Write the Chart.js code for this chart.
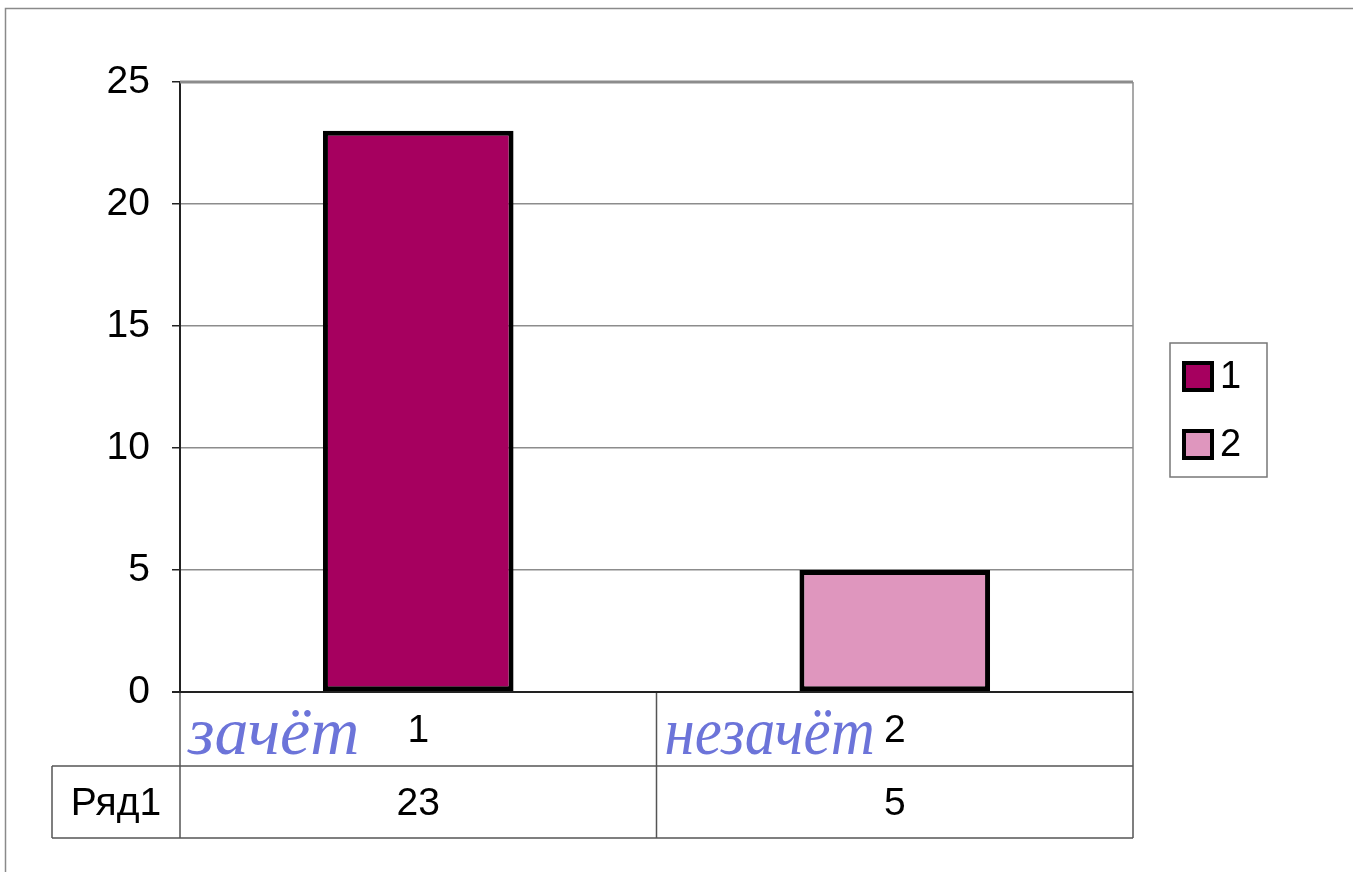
<!DOCTYPE html>
<html>
<head>
<meta charset="utf-8">
<script src="https://cdn.jsdelivr.net/npm/chart.js@4"></script>
<style>
  body { margin: 0; background: #fff; }
  #wrap { width: 1353px; height: 872px; }
</style>
</head>
<body>
<div id="wrap"><canvas id="myChart" width="1353" height="872"></canvas></div>
<script>
const categories = ['1', '2'];
const handLabels = ['зачёт', 'незачёт'];
const seriesName = 'Ряд1';
const values = [23, 5];
const barColors = ['#A6005F', '#DF96BE'];

const font = "'Liberation Sans', Arial, sans-serif";

// data table, legend, hand notes and frame
const extras = {
   id: 'extras',
   afterDraw(chart) {
      const ctx = chart.ctx;
      const a = chart.chartArea;
      const xs = chart.scales.x;
      const n = categories.length;
      const cw = (a.right - a.left) / n;
      const r1 = a.bottom, r2 = a.bottom + 74, r3 = a.bottom + 146;
      const nameLeft = 52;
      ctx.save();

      // outer frame
      ctx.strokeStyle = '#8a8a8a';
      ctx.lineWidth = 1.5;
      ctx.strokeRect(5.5, 8.5, 1400, 900);

      // plot border top / right
      ctx.strokeStyle = '#8c8c8c';
      ctx.lineWidth = 3;
      ctx.beginPath();
      ctx.moveTo(a.left, a.top);
      ctx.lineTo(a.right, a.top);
      ctx.stroke();
      ctx.lineWidth = 1.5;
      ctx.beginPath();
      ctx.moveTo(a.right, a.top);
      ctx.lineTo(a.right, r1);
      ctx.stroke();

      // table lines
      ctx.strokeStyle = '#555';
      ctx.lineWidth = 1.5;
      ctx.beginPath();
      ctx.moveTo(a.left, r1); ctx.lineTo(a.right, r1);
      ctx.moveTo(nameLeft, r2); ctx.lineTo(a.right, r2);
      ctx.moveTo(nameLeft, r3); ctx.lineTo(a.right, r3);
      ctx.moveTo(nameLeft, r2); ctx.lineTo(nameLeft, r3);
      for (let i = 0; i <= n; i++) {
         const x = a.left + cw * i;
         ctx.moveTo(x, r1); ctx.lineTo(x, r3);
      }
      ctx.stroke();

      // axis line at zero
      ctx.strokeStyle = '#222';
      ctx.lineWidth = 2;
      ctx.beginPath();
      ctx.moveTo(a.left - 8, r1); ctx.lineTo(a.right, r1);
      ctx.stroke();

      // table text
      ctx.fillStyle = '#000';
      ctx.font = '39px ' + font;
      ctx.textAlign = 'center';
      ctx.textBaseline = 'middle';
      for (let i = 0; i < n; i++) {
         const cx = xs.getPixelForValue(i);
         ctx.fillText(categories[i], cx, (r1 + r2) / 2 + 2);
         ctx.fillText(String(values[i]), cx, (r2 + r3) / 2 + 2);
      }
      ctx.fillText(seriesName, (nameLeft + a.left) / 2, (r2 + r3) / 2 + 2);

      // hand-written notes
      ctx.fillStyle = '#6C74D9';
      ctx.font = 'italic 68px "Liberation Serif", serif';
      ctx.textAlign = 'left';
      ctx.textBaseline = 'alphabetic';
      for (let i = 0; i < n; i++) {
         const cx = xs.getPixelForValue(i);
         const left = a.left + cw * i + 8;
         ctx.fillText(handLabels[i], left, r1 + 62, cx - 20 - left);
      }

      // legend
      const lx = 1170, ly = 343, lw = 97, lh = 134;
      ctx.strokeStyle = '#777';
      ctx.lineWidth = 1.5;
      ctx.strokeRect(lx, ly, lw, lh);
      ctx.font = '38px ' + font;
      ctx.textAlign = 'left';
      ctx.textBaseline = 'middle';
      for (let i = 0; i < n; i++) {
         const sy = ly + 20 + i * 68;
         ctx.fillStyle = barColors[i];
         ctx.fillRect(lx + 14, sy, 28, 27);
         ctx.strokeStyle = '#000';
         ctx.lineWidth = 4;
         ctx.strokeRect(lx + 14, sy, 28, 27);
         ctx.fillStyle = '#000';
         ctx.fillText(categories[i], lx + 50, sy + 15);
      }
      ctx.restore();
   }
};

const data = {
   labels: categories,
   datasets: [
      {
         label: seriesName,
         data: values,
         backgroundColor: barColors,
         borderColor: '#000',
         borderWidth: 5,
         borderSkipped: false,
         barPercentage: 0.4,
         categoryPercentage: 1.0,
      },
   ],
};

const config = {
   type: 'bar',
   data: data,
   plugins: [extras],
   options: {
      responsive: false,
      animation: false,
      layout: {
         padding: { left: 0, top: 82, right: 220, bottom: 180 },
      },
      plugins: {
         legend: { display: false },
         tooltip: { enabled: false },
      },
      scales: {
         x: {
            display: false,
         },
         y: {
            min: 0,
            max: 25,
            ticks: {
               stepSize: 5,
               color: '#000',
               padding: 22,
               font: { family: font, size: 39 },
            },
            grid: {
               color: '#8c8c8c',
               lineWidth: 1.5,
               tickLength: 8,
               tickColor: '#222',
            },
            border: { color: '#222', width: 2 },
            afterFit(scale) {
               scale.width = 180;
            },
         },
      },
   },
};

new Chart(document.getElementById('myChart'), config);
</script>
</body>
</html>
